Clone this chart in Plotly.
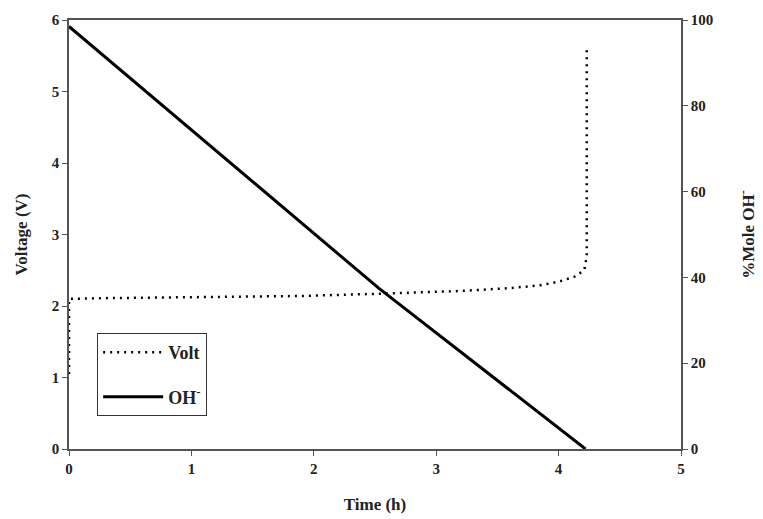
import plotly.graph_objects as go

# Volt series (time h, voltage V)
volt_t = [0.0, 0.0, 0.3, 0.8, 1.3, 1.9, 2.5, 3.2, 3.6, 3.85, 4.0, 4.13, 4.21, 4.23, 4.23]
volt_v = [1.05, 2.1, 2.11, 2.12, 2.13, 2.14, 2.17, 2.21, 2.25, 2.29, 2.34, 2.41, 2.5, 2.7, 5.6]

# OH- series (time h, % mole OH-)
oh_t = [0.0, 2.53, 4.22]
oh_p = [98.5, 37.5, 0.0]

x_ticks = [0, 1, 2, 3, 4, 5]
y_ticks = [0, 1, 2, 3, 4, 5, 6]
y2_ticks = [0, 20, 40, 60, 80, 100]

font_family = "Liberation Serif"
axis_col = "#555555"
text_col = "#222222"

fig = go.Figure()
fig.add_trace(go.Scatter(
    x=volt_t, y=volt_v, mode="lines", name="<b>Volt</b>", legendgroup="a",
    line=dict(color="black", width=2.5, dash="2px,5px"),
    yaxis="y"))
fig.add_trace(go.Scatter(
    x=oh_t, y=oh_p, mode="lines", name="<b>OH<sup>-</sup></b>", legendgroup="b",
    line=dict(color="black", width=3),
    yaxis="y2"))

tickfont = dict(family=font_family, size=15, color=text_col, weight="bold")
titlefont = dict(family=font_family, size=17, color=text_col, weight="bold")
fig.update_layout(
    width=763, height=519,
    margin=dict(l=69, r=82, t=20, b=70),
    paper_bgcolor="white", plot_bgcolor="white",
    showlegend=True,
    legend=dict(x=0.046, y=0.27, xanchor="left", yanchor="top",
                bordercolor="#333333", borderwidth=1, bgcolor="white",
                font=dict(family=font_family, size=18, color=text_col),
                itemwidth=60, tracegroupgap=18),
    xaxis=dict(range=[0, 5], tickvals=x_ticks, ticktext=[f"<b>{v}</b>" for v in x_ticks],
               showgrid=False, zeroline=False, showline=True, linecolor=axis_col,
               linewidth=1.5, mirror=True, ticks="outside", ticklen=5,
               tickcolor=axis_col, tickfont=tickfont, automargin=False,
               title=dict(text="<b>Time (h)</b>", font=titlefont, standoff=22)),
    yaxis=dict(range=[0, 6], tickvals=y_ticks, ticktext=[f"<b>{v}</b>" for v in y_ticks],
               showgrid=False, zeroline=False, showline=True, linecolor=axis_col,
               linewidth=1.5, ticks="outside", ticklen=5, tickcolor=axis_col,
               tickfont=tickfont, automargin=False,
               title=dict(text="<b>Voltage (V)</b>", font=titlefont, standoff=20)),
    yaxis2=dict(range=[0, 100], tickvals=y2_ticks, ticktext=[f"<b>{v}</b>" for v in y2_ticks],
                overlaying="y", side="right",
                showgrid=False, zeroline=False, showline=True, linecolor=axis_col,
                linewidth=1.5, ticks="outside", ticklen=5, tickcolor=axis_col,
                tickfont=tickfont, automargin=False,
                title=dict(text="<b>%Mole OH<sup>-</sup></b>", font=titlefont, standoff=30)),
)

fig.write_html("out.html")
